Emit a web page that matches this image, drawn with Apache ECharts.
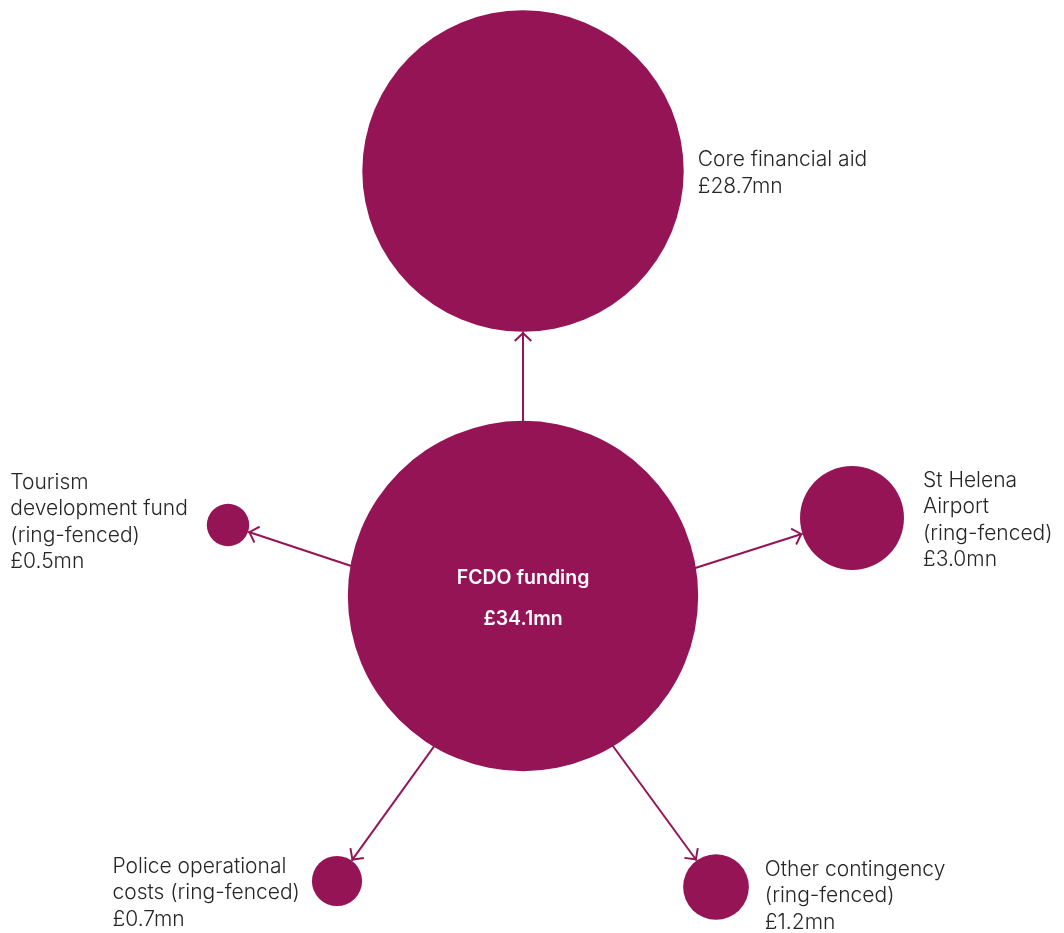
<!DOCTYPE html>
<html>
<head>
<meta charset="utf-8">
<script src="https://cdn.jsdelivr.net/npm/echarts@6/dist/echarts.min.js"></script>
<style>
html,body{margin:0;padding:0;background:#fff;}
#chart{width:1064px;height:933px;}
</style>
</head>
<body>
<div id="chart"></div>
<script>
// ---- data ----
const sourceName = 'FCDO funding';
const sourceValue = 34.1;
const categories = [
  'Core financial aid',
  'St Helena\nAirport\n(ring-fenced)',
  'Other contingency\n(ring-fenced)',
  'Police operational\ncosts (ring-fenced)',
  'Tourism\ndevelopment fund\n(ring-fenced)'
];
const values = [28.7, 3.0, 1.2, 0.7, 0.5];

// ---- layout (diagram positions, px) ----
const sourcePos = [523, 596];
const hubPos = [523, 623];
const targetPos = [[523, 171], [852, 518], [716, 887], [337, 881], [228, 525]];
const labelSide = ['right', 'right', 'right', 'left', 'left'];
const labelDist = [14, 19, 16, 12, 19];
const labelOffset = [[0, 2], [0, 2], [0, 9], [0, 12], [0, -3]];

// ---- styles ----
const COLOR = '#951456';
const TEXT = '#262626';
const FONT = 'Inter';
const K = 60; // diameter = K * sqrt(value)

const allPos = [sourcePos, hubPos].concat(targetPos);
const xs = allPos.map(p => p[0]), ys = allPos.map(p => p[1]);
const minX = Math.min(...xs), maxX = Math.max(...xs);
const minY = Math.min(...ys), maxY = Math.max(...ys);

const fmtMoney = v => '£' + v.toFixed(1) + 'mn';

const nodes = [];
nodes.push({
  name: 'hub', x: hubPos[0], y: hubPos[1], symbolSize: 1,
  itemStyle: { color: COLOR }, label: { show: false }
});
categories.forEach((c, i) => {
  const lines = (c + '\n' + fmtMoney(values[i])).split('\n');
  nodes.push({
    name: 't' + i,
    x: targetPos[i][0], y: targetPos[i][1],
    value: values[i],
    symbolSize: K * Math.sqrt(values[i]),
    label: {
      show: true,
      position: labelSide[i],
      distance: labelDist[i],
      offset: labelOffset[i],
      formatter: lines.map(l => '{t|' + l + '}').join('\n'),
      rich: {
        t: { align: 'left', fontSize: 21, lineHeight: 26.5, color: TEXT, fontFamily: FONT, fontWeight: 300 }
      }
    }
  });
});
nodes.push({
  name: 'source', x: sourcePos[0], y: sourcePos[1],
  value: sourceValue,
  symbolSize: K * Math.sqrt(sourceValue),
  label: {
    show: true, position: 'inside', offset: [0, 3],
    formatter: sourceName + '\n' + fmtMoney(sourceValue),
    color: '#fff', fontSize: 19.5, fontWeight: 600, lineHeight: 41, fontFamily: FONT
  }
});

const links = categories.map((c, i) => ({ source: 'hub', target: 't' + i }));

const arrowPath = 'path://M0,-0.41 L20,-0.41 L10,-0.40 Z M10,10 L19,19 L17.59,20.41 L10,12.83 L2.41,20.41 L1,19 Z';

const chart = echarts.init(document.getElementById('chart'), null, { renderer: 'canvas' });
chart.setOption({
  backgroundColor: '#fff',
  animation: false,
  series: [{
    type: 'graph',
    layout: 'none',
    left: minX, top: minY, width: maxX - minX, height: maxY - minY,
    roam: false,
    symbol: 'circle',
    itemStyle: { color: COLOR },
    edgeSymbol: ['none', arrowPath],
    edgeSymbolSize: 20,
    lineStyle: { color: COLOR, width: 2, opacity: 1, curveness: 0 },
    emphasis: { disabled: true },
    data: nodes,
    links: links
  }]
});
</script>
</body>
</html>
